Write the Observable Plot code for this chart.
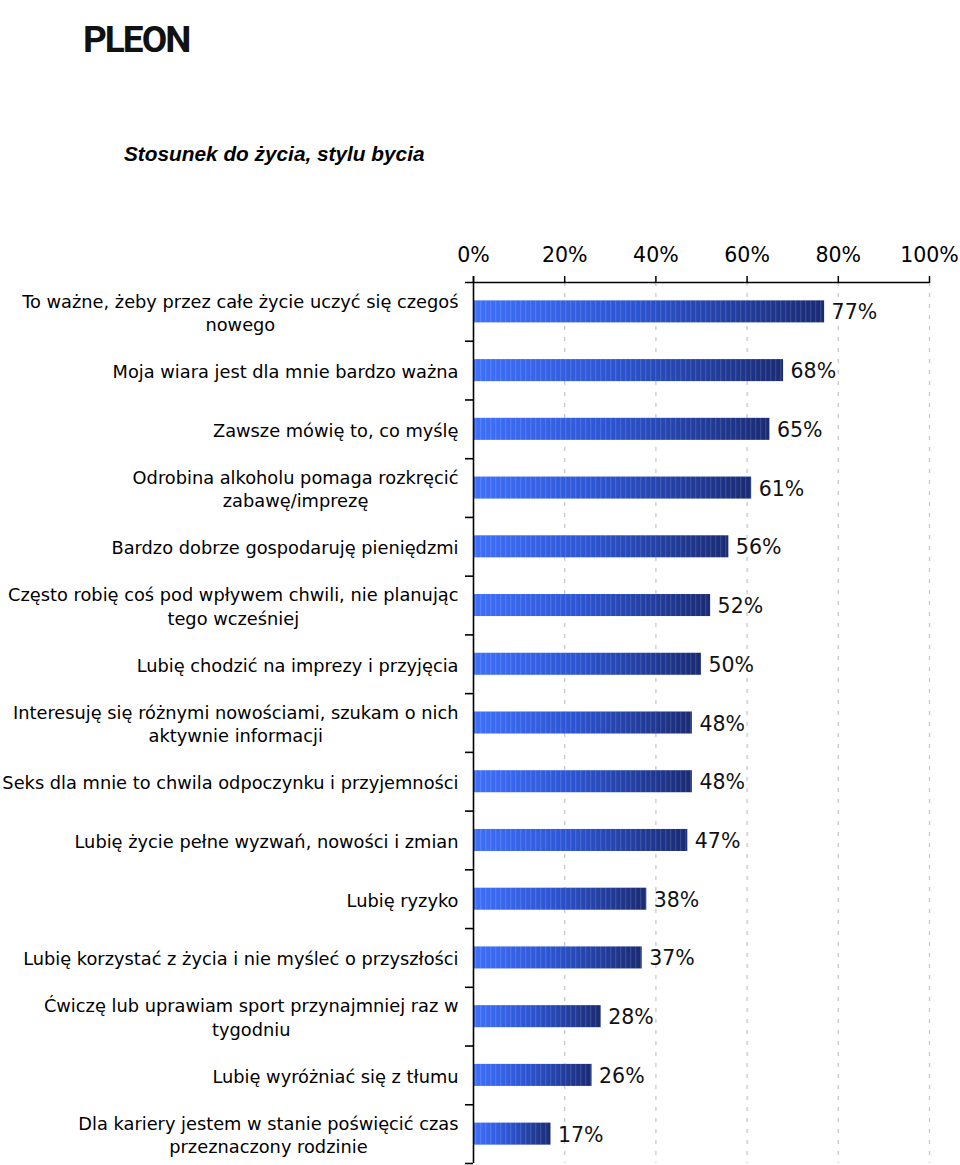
<!DOCTYPE html>
<html><head><meta charset="utf-8">
<script src="https://cdn.jsdelivr.net/npm/d3@7"></script>
<script src="https://cdn.jsdelivr.net/npm/@observablehq/plot@0.6"></script>
<style>
body{margin:0;background:#fff;width:960px;height:1165px;position:relative;overflow:hidden;font-family:"DejaVu Sans",sans-serif}
#logo{position:absolute;left:83px;top:20px;font:700 37px Roboto,"Liberation Sans",sans-serif;letter-spacing:-2px;color:#111;line-height:40px}
#title{position:absolute;left:124px;top:143px;font:italic 700 20.8px "Liberation Sans",Arial,sans-serif;color:#000;line-height:22px}
#chart{position:absolute;left:0;top:230px}
</style></head><body>
<div id="logo">PLEON</div>
<div id="title">Stosunek do życia, stylu bycia</div>
<div id="chart"></div>
<script>
const labels = [
  "To ważne, żeby przez całe życie uczyć się czegoś\nnowego",
  "Moja wiara jest dla mnie bardzo ważna",
  "Zawsze mówię to, co myślę",
  "Odrobina alkoholu pomaga rozkręcić\nzabawę/imprezę",
  "Bardzo dobrze gospodaruję pieniędzmi",
  "Często robię coś pod wpływem chwili, nie planując\ntego wcześniej",
  "Lubię chodzić na imprezy i przyjęcia",
  "Interesuję się różnymi nowościami, szukam o nich\naktywnie informacji",
  "Seks dla mnie to chwila odpoczynku i przyjemności",
  "Lubię życie pełne wyzwań, nowości i zmian",
  "Lubię ryzyko",
  "Lubię korzystać z życia i nie myśleć o przyszłości",
  "Ćwiczę lub uprawiam sport przynajmniej raz w\ntygodniu",
  "Lubię wyróżniać się z tłumu",
  "Dla kariery jestem w stanie poświęcić czas\nprzeznaczony rodzinie"
];
const values = [77, 68, 65, 61, 56, 52, 50, 48, 48, 47, 38, 37, 28, 26, 17];
const xTicks = [0, 20, 40, 60, 80, 100];

const data = labels.map((label, i) => ({label, value: values[i]}));

const W = 960, H = 935, mT = 52, mB = 2, mL = 473, mR = 31;
const step = (H - mT - mB) / labels.length;
const tickLen = 8 / ((W - mL - mR) / 100);

const defs = () => {
  const g = d3.create("svg:defs");
  const lg = g.append("linearGradient").attr("id", "barGrad")
    .attr("x1", 0).attr("x2", 1).attr("y1", 0).attr("y2", 0);
  lg.append("stop").attr("offset", 0).attr("stop-color", "#3f70fb");
  lg.append("stop").attr("offset", 0.45).attr("stop-color", "#2d55d3");
  lg.append("stop").attr("offset", 1).attr("stop-color", "#1a2b74");
  const p = g.append("pattern").attr("id", "stripes")
    .attr("patternUnits", "userSpaceOnUse").attr("width", 5).attr("height", 10);
  p.append("rect").attr("width", 1.3).attr("height", 10)
    .attr("fill", "#ffffff").attr("fill-opacity", 0.12);
  return g.node();
};

const plot = Plot.plot({
  width: W, height: H,
  marginTop: mT, marginBottom: mB, marginLeft: mL, marginRight: mR,
  style: {fontFamily: "'DejaVu Sans', sans-serif", background: "transparent", color: "#000", overflow: "visible"},
  x: {domain: [0, 100], label: null},
  y: {domain: labels, paddingInner: 0.625, paddingOuter: 0.3125, round: false, label: null},
  marks: [
    defs,
    Plot.ruleX(xTicks.slice(1), {stroke: "#c8c8c8", strokeDasharray: "4,7", strokeWidth: 1.3}),
    Plot.barX(data, {x: "value", y: "label", fill: "url(#barGrad)"}),
    Plot.barX(data, {x: "value", y: "label", fill: "url(#stripes)"}),
    Plot.text(data, {x: "value", y: "label", text: d => d.value + "%", dx: 7, dy: 1,
      textAnchor: "start", fontSize: 20.5, fill: "#111"}),
    Plot.axisX({anchor: "top", ticks: xTicks, tickFormat: d => d + "%", tickSize: 7,
      tickPadding: 14, fontSize: 20.5, stroke: "#000", strokeWidth: 1.5, label: null}),
    Plot.axisY({anchor: "left", tickSize: 0, tickPadding: 15, fontSize: 17.8, lineHeight: 1.32, label: null}),
    Plot.ruleY([labels[0]], {dy: -step / 2, x1: -tickLen, x2: 100, stroke: "#000", strokeWidth: 1.6}),
    Plot.ruleY(labels, {dy: step / 2, x1: -tickLen, x2: 0, stroke: "#000", strokeWidth: 1.6}),
    Plot.ruleX([0], {insetTop: -6, stroke: "#000", strokeWidth: 1.6})
  ]
});

document.getElementById("chart").append(plot);

plot.querySelectorAll('g[aria-label="y-axis tick label"] text').forEach(t => {
  const ts = t.querySelectorAll("tspan");
  if (ts.length < 2) return;
  let w = 0;
  ts.forEach(s => { w = Math.max(w, s.getComputedTextLength()); });
  t.setAttribute("text-anchor", "middle");
  ts.forEach(s => {
    const x0 = parseFloat(s.getAttribute("x")) || 0;
    s.setAttribute("x", x0 - w / 2);
  });
});
</script>
</body></html>
